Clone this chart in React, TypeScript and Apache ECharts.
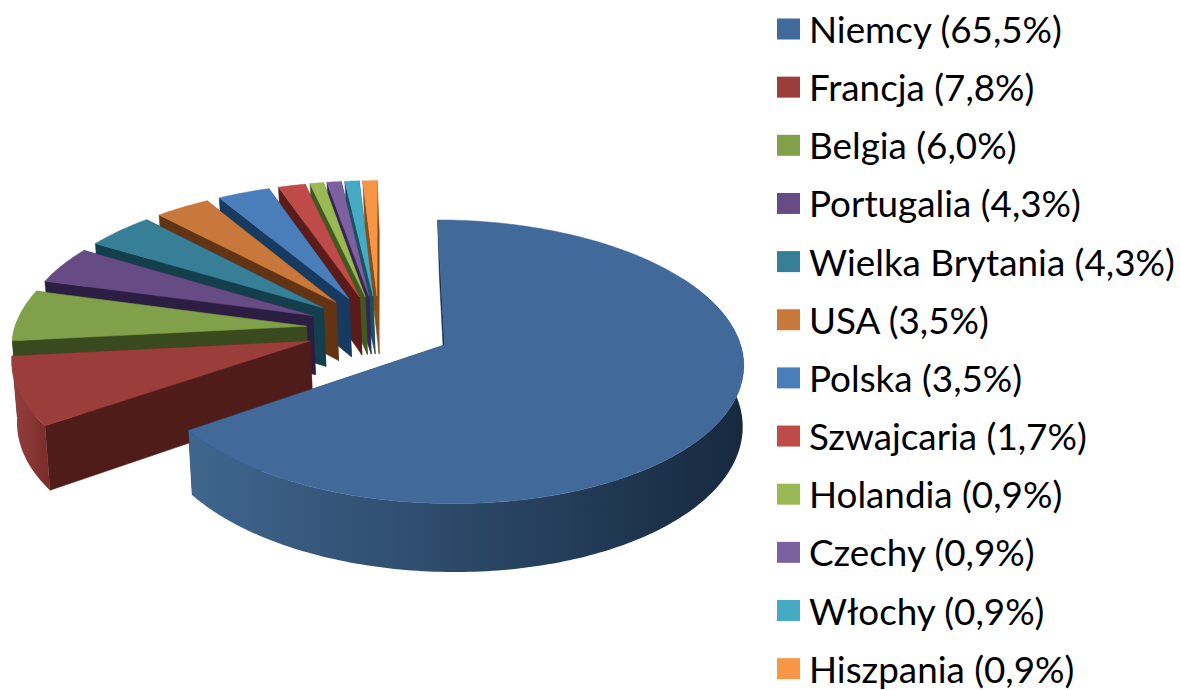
import React, { useEffect, useRef } from "react";
import * as echarts from "echarts";

const countries = ["Niemcy", "Francja", "Belgia", "Portugalia", "Wielka Brytania", "USA", "Polska", "Szwajcaria", "Holandia", "Czechy", "Włochy", "Hiszpania"];
const labelShares = [65.5, 7.8, 6.0, 4.3, 4.3, 3.5, 3.5, 1.7, 0.9, 0.9, 0.9, 0.9];
const sliceShares = [65.35, 7.95, 6.0, 4.4, 4.3, 3.45, 3.3, 1.7, 0.85, 0.9, 0.9, 0.9];
const topColors = ["#41699a", "#9b3e3b", "#80a049", "#664b85", "#367f97", "#c8783a", "#4a7ebb", "#be4b48", "#98b954", "#7d60a0", "#46aac5", "#f79646"];
const sideColors = ["#16304d", "#501c19", "#394a1f", "#2c1d42", "#123f4b", "#633413", "#173a60", "#5a1b19", "#3f5a1e", "#362554", "#17525f", "#8a4a13"];
const outerStops = [
  ["#40668f", "#16293f"],
  ["#93403d", "#7a2c2a"],
  ["#394a1f", "#394a1f"],
];

const labels = countries.map((c, i) => `${c} (${labelShares[i].toFixed(1).replace(".", ",")}%)`);
const total = sliceShares.reduce((a, b) => a + b, 0);

const X0 = 379, Y0 = 329, R = 292, EXPLODE = 73, PERSP = 0.0004, TILT = 0.466, DEPTH = 59.5, VANISH_X = 627, BOTTOM_X = 0.9914;

function project(X: number, Yw: number, down: boolean): number[] {
  const s = 1 / (1 - PERSP * Yw);
  const x = X0 + X * s;
  const y = Y0 + TILT * Yw * s;
  return down ? [VANISH_X + (x - VANISH_X) * BOTTOM_X, y + DEPTH * s] : [x, y];
}

function rim(ex: number, ey: number, deg: number, down: boolean): number[] {
  const a = (deg * Math.PI) / 180;
  return project(ex + R * Math.sin(a), ey - R * Math.cos(a), down);
}

function arcPoints(ex: number, ey: number, a0: number, a1: number, down: boolean): number[][] {
  const pts: number[][] = [];
  const n = Math.max(2, Math.ceil(Math.abs(a1 - a0)));
  for (let i = 0; i <= n; i++) pts.push(rim(ex, ey, a0 + ((a1 - a0) * i) / n, down));
  return pts;
}

function makeRenderItem(index: number) {
  return (_params: any, api: any) => {
    const before = sliceShares.slice(0, index).reduce((a, b) => a + b, 0);
    const value = api.value(0) as number;
    const a0 = (before / total) * 360;
    const a1 = ((before + value) / total) * 360;
    const mid = ((a0 + a1) / 2) * Math.PI / 180;
    const ex = EXPLODE * Math.sin(mid);
    const ey = -EXPLODE * Math.cos(mid);
    const apexTop = project(ex, ey, false);
    const apexBot = project(ex, ey, true);
    const children: any[] = [];
    const wall = (deg: number) => ({
      type: "polygon",
      shape: { points: [apexTop, rim(ex, ey, deg, false), rim(ex, ey, deg, true), apexBot] },
      style: { fill: sideColors[index], stroke: sideColors[index], lineWidth: 0.5 },
    });
    children.push(wall(a1));
    children.push(wall(a0));
    const oa0 = Math.max(a0, 60);
    const oa1 = Math.min(a1, 272);
    if (oa1 > oa0) {
      const stops = outerStops[index] || [sideColors[index], sideColors[index]];
      children.push({
        type: "polygon",
        shape: { points: [...arcPoints(ex, ey, oa0, oa1, false), ...arcPoints(ex, ey, oa1, oa0, true)] },
        style: {
          fill: new echarts.graphic.LinearGradient(0, 0, 1, 0, [
            { offset: 0, color: stops[0] },
            { offset: 1, color: stops[1] },
          ]),
        },
      });
    }
    children.push({
      type: "polygon",
      shape: { points: [apexTop, ...arcPoints(ex, ey, a0, a1, false)] },
      style: { fill: topColors[index], stroke: topColors[index], lineWidth: 0.5 },
    });
    return { type: "group", children };
  };
}

export default function App() {
  const ref = useRef<HTMLDivElement>(null);
  useEffect(() => {
    document.body.style.margin = "0";
    const chart = echarts.init(ref.current!, undefined, { renderer: "svg" });
    chart.setOption({
      animation: false,
      backgroundColor: "#ffffff",
      legend: {
        orient: "vertical",
        left: 777,
        top: 7,
        height: 900,
        data: labels,
        selectedMode: false,
        icon: "rect",
        itemWidth: 23,
        itemHeight: 21,
        itemGap: 14.15,
        padding: 0,
        textStyle: { fontFamily: "Lato", fontSize: 36.8, color: "#000000", lineHeight: 44, padding: [0, 0, 0, 4] },
      },
      series: sliceShares.map((v, i) => ({
        type: "custom",
        name: labels[i],
        coordinateSystem: "none",
        z: i === 0 ? 50 : 40 - i,
        silent: true,
        itemStyle: { color: topColors[i] },
        data: [[v]],
        renderItem: makeRenderItem(i),
      })),
    });
    return () => chart.dispose();
  }, []);
  return <div ref={ref} style={{ position: "fixed", left: 0, top: 0, width: 1180, height: 690 }} />;
}
